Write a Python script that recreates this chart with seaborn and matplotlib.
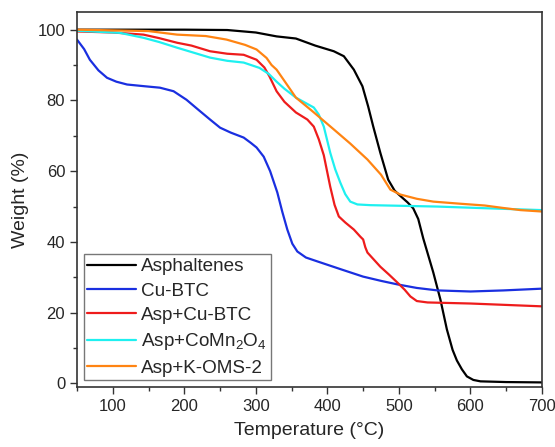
import matplotlib
matplotlib.use("Agg")
import matplotlib.pyplot as plt
import seaborn as sns
import pandas as pd
from matplotlib.ticker import MultipleLocator

# Data
asp_T = [50, 200, 260, 300, 329, 356, 383, 409, 423, 437, 449, 457, 464, 474, 485, 494, 502, 512, 520, 527, 534, 548, 558, 567, 575, 581, 588, 595, 604, 614, 650, 700]
asp_W = [100, 100, 99.9, 99.2, 98.1, 97.5, 95.5, 93.9, 92.5, 88.7, 84, 78.3, 72.7, 65.2, 57.6, 54.5, 53, 51.2, 49.5, 46.5, 41, 31.4, 23.7, 15.3, 9.5, 6.5, 4, 2, 1, 0.6, 0.4, 0.3]

cu_T = [50, 60, 68, 80, 92, 105, 120, 145, 166, 185, 203, 220, 236, 250, 265, 283, 293, 301, 311, 320, 330, 337, 344, 351, 358, 370, 386, 420, 450, 475, 498, 525, 554, 600, 646, 700]
cu_W = [97.2, 94.5, 91.5, 88.5, 86.4, 85.3, 84.5, 84, 83.6, 82.6, 80.2, 77.3, 74.6, 72.3, 70.9, 69.5, 68, 66.7, 64.1, 60, 54, 48.5, 43.5, 39.5, 37.3, 35.6, 34.5, 32.2, 30.2, 29, 28, 27, 26.3, 26, 26.3, 26.8]

acu_T = [50, 100, 143, 165, 190, 210, 236, 260, 283, 301, 312, 319, 329, 340, 356, 372, 381, 388, 395, 404, 410, 416, 425, 437, 446, 450, 453, 456, 465, 474, 486, 498, 508, 516, 525, 540, 600, 700]
acu_W = [99.5, 99.2, 98.6, 97.6, 96.3, 95.5, 93.9, 93.2, 92.9, 91.5, 89.3, 86.8, 82.6, 79.6, 76.6, 74.6, 72.6, 69, 64.5, 55.6, 50.5, 47.2, 45.5, 43.5, 41.5, 40.7, 38.5, 37, 35, 33, 30.8, 28.5, 26.5, 24.6, 23.3, 22.9, 22.6, 21.8]

aco_T = [50, 110, 143, 165, 190, 236, 260, 283, 305, 318, 329, 340, 356, 381, 388, 395, 404, 411, 418, 425, 432, 442, 460, 554, 640, 700]
aco_W = [99.7, 99.1, 97.7, 96.5, 94.9, 92.1, 91.2, 90.7, 89.2, 87.5, 85.3, 83.3, 80.8, 78, 76, 72.6, 65.2, 60.5, 56.8, 53.5, 51.4, 50.6, 50.4, 50, 49.4, 49]

aok_T = [50, 150, 190, 230, 259, 285, 301, 315, 322, 329, 340, 356, 380, 409, 432, 456, 475, 488, 502, 525, 548, 586, 620, 646, 670, 700]
aok_W = [100, 99.6, 98.6, 98.2, 97.2, 95.7, 94.4, 92, 90, 88.7, 85.5, 80.8, 76.8, 71.8, 67.8, 63.3, 59, 54.8, 53.4, 52.2, 51.4, 50.8, 50.3, 49.6, 49, 48.6]

labels = ["Asphaltenes", "Cu-BTC", "Asp+Cu-BTC", r"Asp+CoMn$_2$O$_4$", "Asp+K-OMS-2"]
colors = ["#000000", "#1a2fe0", "#ee1c1c", "#1ef0f0", "#ff8412"]

series = [(asp_T, asp_W), (cu_T, cu_W), (acu_T, acu_W), (aco_T, aco_W), (aok_T, aok_W)]
frames = []
for lab, (t, w) in zip(labels, series):
    frames.append(pd.DataFrame({"T": t, "W": w, "Sample": lab}))
df = pd.concat(frames, ignore_index=True)

sns.set_style("ticks")
plt.rcParams['font.family'] = ['Liberation Sans', 'DejaVu Sans']
plt.rcParams['mathtext.fontset'] = 'custom'
plt.rcParams['mathtext.rm'] = 'Liberation Sans'
plt.rcParams['mathtext.it'] = 'Liberation Sans'

fig = plt.figure(figsize=(5.55, 4.47), dpi=100)
ax = fig.add_axes([0.1387, 0.1342, 0.8379, 0.839])

sns.lineplot(data=df, x="T", y="W", hue="Sample", palette=dict(zip(labels, colors)),
             hue_order=labels, sort=False, estimator=None, linewidth=1.6, ax=ax)

ax.set_xlim(50, 700)
ax.set_ylim(-1, 105)
ax.xaxis.set_major_locator(MultipleLocator(100))
ax.xaxis.set_minor_locator(MultipleLocator(50))
ax.yaxis.set_major_locator(MultipleLocator(20))
ax.yaxis.set_minor_locator(MultipleLocator(10))
ax.tick_params(which='major', direction='out', length=5, width=1, labelsize=12, color='#333333')
ax.tick_params(which='minor', direction='out', length=3, width=1, color='#333333')
for s in ax.spines.values():
    s.set_linewidth(1.2)
    s.set_color('#333333')
    s.set_visible(True)

ax.set_xlabel("Temperature (°C)", fontsize=14, labelpad=6)
ax.set_ylabel("Weight (%)", fontsize=14, labelpad=6)

leg = ax.legend(loc='lower left', fontsize=13.6, frameon=True, fancybox=False,
                edgecolor='#555555', borderpad=0.2, labelspacing=0.38,
                handlelength=2.6, handletextpad=0.25, borderaxespad=0.35)
leg.get_frame().set_linewidth(1.0)
for line in leg.get_lines():
    line.set_linewidth(1.6)

fig.savefig("out.png", dpi=100)
